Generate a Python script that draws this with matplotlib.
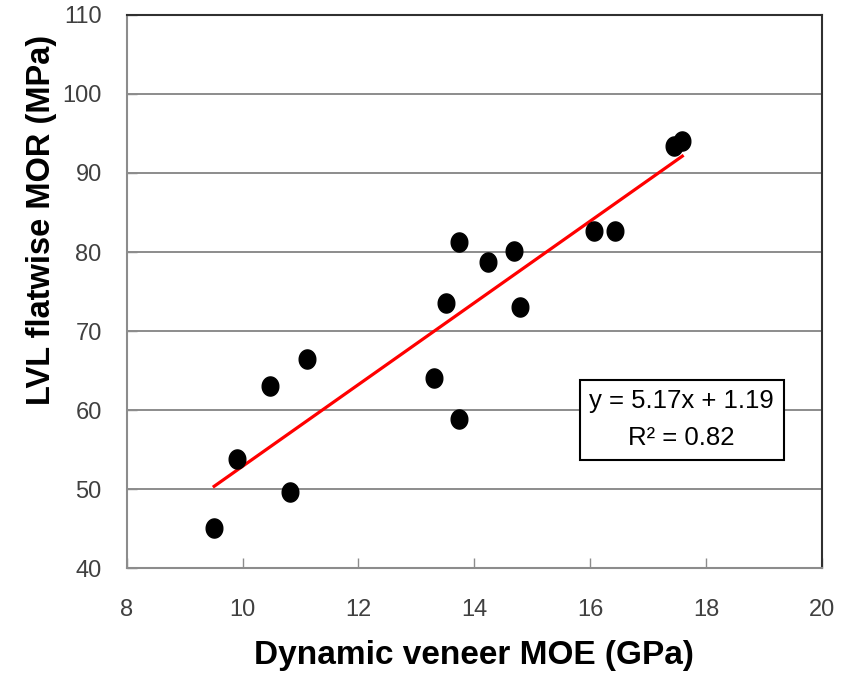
import numpy as np
import matplotlib
matplotlib.use("Agg")
import matplotlib.pyplot as plt

# dynamic veneer MOE (GPa) vs LVL flatwise MOR (MPa)
moe = [9.51, 9.90, 10.82, 10.48, 11.12, 13.30, 13.52, 13.73, 13.73,
       14.23, 14.68, 14.79, 16.07, 16.43, 17.45, 17.59]
mor = [45.1, 53.8, 49.6, 63.1, 66.5, 64.0, 73.6, 58.9, 81.3,
       78.8, 80.1, 73.0, 82.6, 82.6, 93.4, 94.0]
slope = 5.17
intercept = 1.19
r2 = 0.82
x_ticks = [8, 10, 12, 14, 16, 18, 20]
y_ticks = [40, 50, 60, 70, 80, 90, 100, 110]

plt.rcParams['font.family'] = ['Liberation Sans', 'DejaVu Sans']

fig = plt.figure(figsize=(8.5, 6.78), dpi=100)
ax = fig.add_axes([0.149, 0.162, 0.818, 0.816])

ax.set_xlim(8, 20)
ax.set_ylim(40, 110)
ax.set_xticks(x_ticks)
ax.set_yticks(y_ticks)
ax.yaxis.grid(True, color='#8c8c8c', lw=1.4)
ax.set_axisbelow(True)

# fitted trend line over the data range
xf = np.array([min(moe), max(moe)])
ax.plot(xf, slope * xf + intercept, color='#ff0000', lw=2.3, zorder=2)

# slightly tall ellipse marker, like the original
t = np.linspace(0, 2 * np.pi, 40)
ell = np.column_stack([np.cos(t) * 0.87, np.sin(t)])
ax.scatter(moe, mor, marker=ell, s=190, color='black', zorder=3)

ax.text(17.58, 58.8, 'y = %.2fx + %.2f\nR² = %.2f' % (slope, intercept, r2),
        ha='center', va='center', fontsize=18.5, linespacing=1.65,
        bbox=dict(boxstyle='square,pad=0.38', fc='white', ec='black', lw=1.5),
        zorder=4)

for s in ['left', 'bottom']:
    ax.spines[s].set_color('#8c8c8c')
for s in ['top', 'right']:
    ax.spines[s].set_color('#303030')
for s in ax.spines.values():
    s.set_linewidth(1.5)

ax.tick_params(direction='in', length=7, width=1, color='#8c8c8c',
               labelsize=17, labelcolor='#404040')
ax.tick_params(axis='x', pad=22)
ax.tick_params(axis='y', pad=18)

ax.set_xlabel('Dynamic veneer MOE (GPa)', fontsize=24, fontweight='bold', labelpad=14)
ax.set_ylabel('LVL flatwise MOR (MPa)', fontsize=23.5, fontweight='bold')
ax.yaxis.set_label_coords(-0.1, 0.63)

fig.savefig('out.png', dpi=100)
